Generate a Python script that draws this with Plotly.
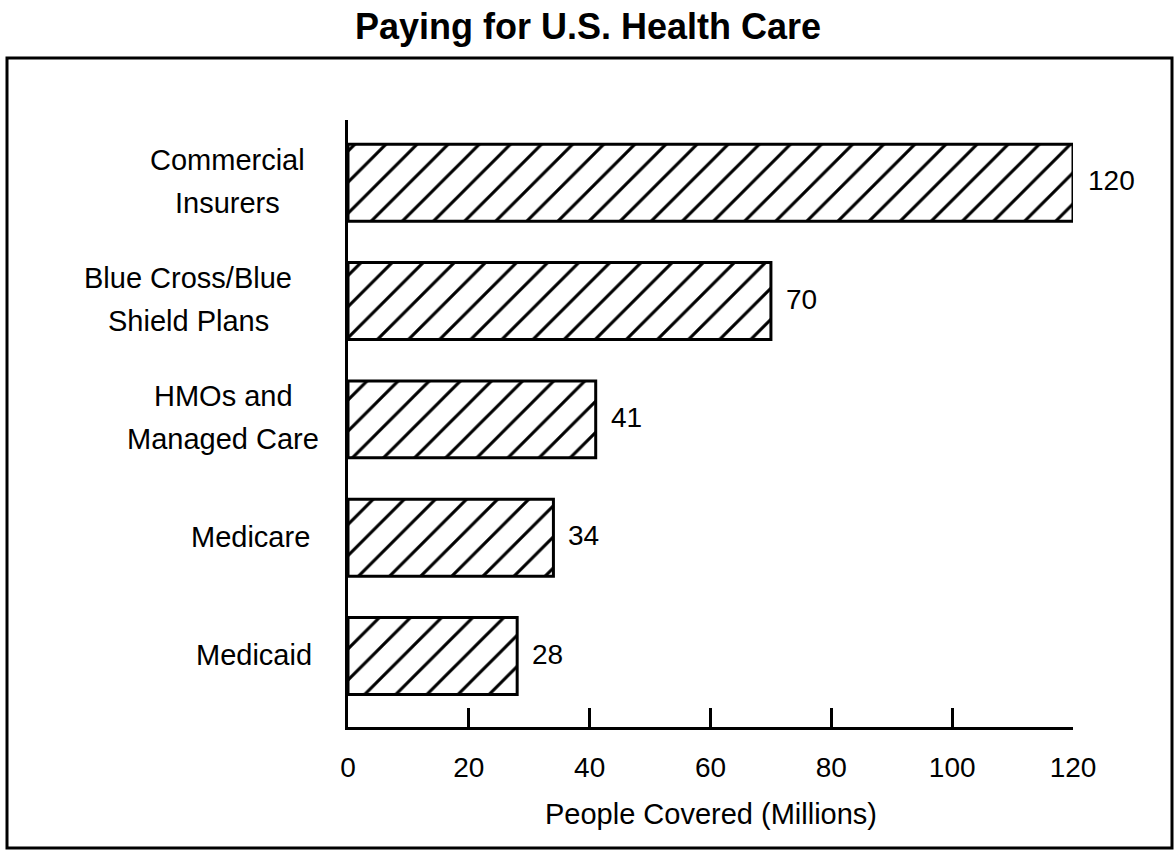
import plotly.graph_objects as go

# ---- data ----
categories = ["Medicaid", "Medicare", "HMOs and\nManaged Care",
              "Blue Cross/Blue\nShield Plans", "Commercial\nInsurers"]
values = [28, 34, 41, 70, 120]
x_ticks = [0, 20, 40, 60, 80, 100, 120]
title_text = "Paying for U.S. Health Care"
x_title = "People Covered (Millions)"

# ---- layout geometry (pixels) ----
W, H = 1176, 851
L, R, T, B = 348, 103, 120, 124
FONT = "Liberation Sans, Arial, Helvetica, sans-serif"
# horizontal centre offset of each category label from the y axis (px)
label_center_shift = [-94, -98, -125, -160, -121]

ypos = list(range(len(categories)))

fig = go.Figure()
fig.add_trace(go.Bar(
    x=values, y=ypos, orientation="h", width=0.65,
    marker=dict(color="white",
                line=dict(color="black", width=3),
                pattern=dict(shape="/", fgcolor="black", bgcolor="white",
                             fgopacity=1, fillmode="replace",
                             size=22, solidity=0.14)),
    hoverinfo="skip",
))

annotations = []
for i, (cat, v) in enumerate(zip(categories, values)):
    annotations.append(dict(x=v, y=i, xref="x", yref="y", text=str(v),
                            showarrow=False, xanchor="left", yanchor="middle",
                            xshift=13, yshift=2,
                            font=dict(family=FONT, size=28, color="black")))
    lines = cat.split("\n")
    shifts = [0] if len(lines) == 1 else [22, -21]
    for ln, ys in zip(lines, shifts):
        annotations.append(dict(x=0, y=i, xref="x", yref="y", text=ln,
                                showarrow=False, xanchor="center",
                                yanchor="middle",
                                xshift=label_center_shift[i], yshift=ys + 1,
                                font=dict(family=FONT, size=29, color="black")))

# title
annotations.append(dict(x=0.5, y=1 + (T - 27) / (H - T - B), xref="paper",
                        yref="paper", xshift=(588 - (L + (W - L - R) / 2)),
                        text="<b>" + title_text + "</b>", showarrow=False,
                        xanchor="center", yanchor="middle",
                        font=dict(family=FONT, size=36, color="black")))
# x title
annotations.append(dict(x=0.5, y=-(814 - (H - B)) / (H - T - B), xref="paper",
                        yref="paper", text=x_title, showarrow=False,
                        xanchor="center", yanchor="middle",
                        font=dict(family=FONT, size=29, color="black")))

pw, ph = W - L - R, H - T - B
def px_x(p):
    return (p - L) / pw
def px_y(p):
    return (H - B - p) / ph

fig.update_layout(
    width=W, height=H,
    margin=dict(l=L, r=R, t=T, b=B, pad=0),
    paper_bgcolor="white", plot_bgcolor="white",
    showlegend=False,
    annotations=annotations,
    shapes=[dict(type="rect", xref="paper", yref="paper",
                 x0=px_x(7), x1=px_x(1172), y0=px_y(848), y1=px_y(58),
                 line=dict(color="black", width=3), fillcolor="rgba(0,0,0,0)",
                 layer="below")],
    xaxis=dict(range=[0, 120], tickvals=x_ticks, ticktext=[str(t) for t in x_ticks],
               showline=True, linecolor="black", linewidth=3,
               ticks="inside", ticklen=19, tickwidth=2.5, tickcolor="black",
               showgrid=False, zeroline=False,
               tickfont=dict(family=FONT, size=28, color="black"),
               ticklabelstandoff=13),
    yaxis=dict(range=[-0.6, 4.53], showline=True, linecolor="black",
               linewidth=3, showticklabels=False, ticks="",
               showgrid=False, zeroline=False),
)

fig.write_html("out.html")
